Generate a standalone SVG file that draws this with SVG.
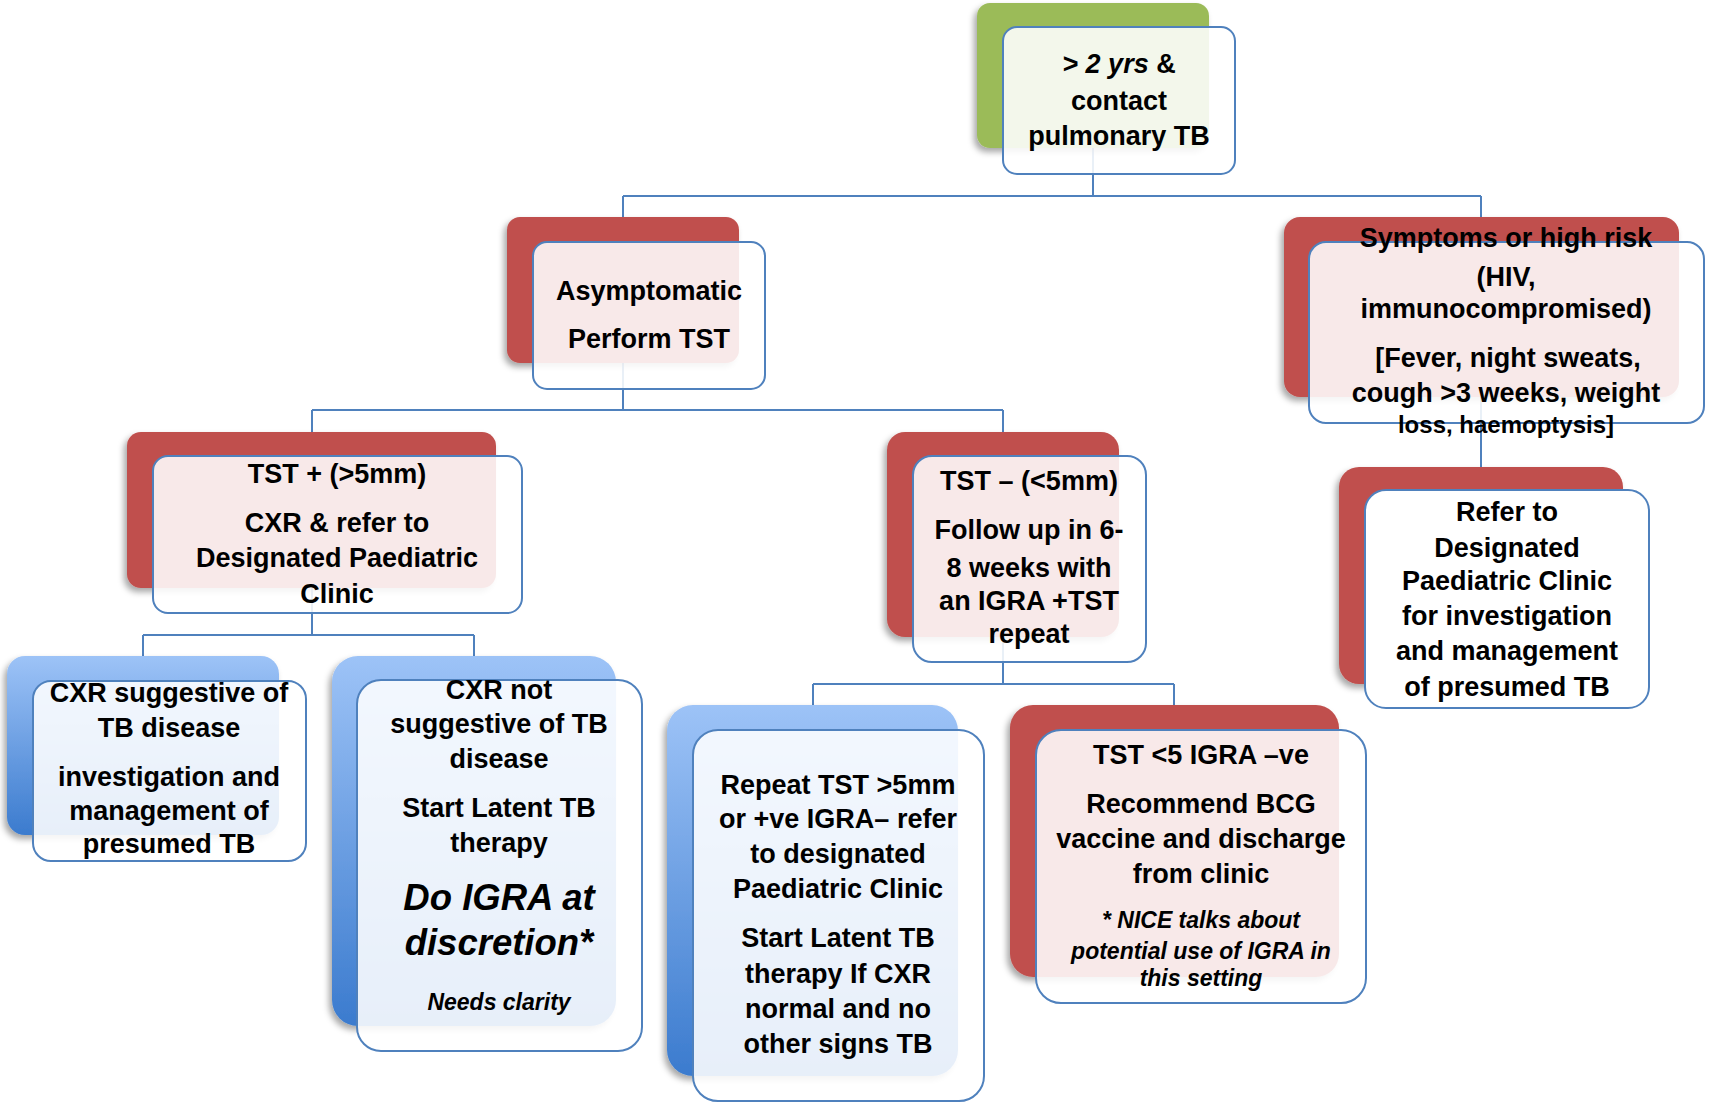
<svg xmlns="http://www.w3.org/2000/svg" width="1710" height="1103" viewBox="0 0 1710 1103">
<defs>
<linearGradient id="blueGrad" x1="0" y1="0" x2="0" y2="1">
<stop offset="0" stop-color="#9DC3F7"/>
<stop offset="1" stop-color="#3B7BCE"/>
</linearGradient>
<filter id="shadow" x="-10%" y="-10%" width="120%" height="125%">
<feDropShadow dx="-3" dy="4" stdDeviation="3" flood-color="#000" flood-opacity="0.35"/>
</filter>
<style>
.green{fill:#9BBB59;filter:url(#shadow)}
.red{fill:#C0504D;filter:url(#shadow)}
.blue{fill:url(#blueGrad);filter:url(#shadow)}
.front{fill:#FFFFFF;fill-opacity:0.88;stroke:#4F81BD;stroke-width:2}
.opaque{fill-opacity:1}
.conn{fill:none;stroke:#4F81BD;stroke-width:2}
text{font-family:"Liberation Sans",Arial,sans-serif;font-weight:bold;font-size:27px;fill:#000;text-anchor:middle}
.it{font-style:italic}
.big{font-size:36.5px}
.small{font-size:23px}
.s24{font-size:24px}
</style>
</defs>
<rect width="1710" height="1103" fill="#FFFFFF"/>

<g id="connectors">
<path class="conn" d="M1093,148 V196 M623,196 H1481 M623,196 V217 M1481,196 V217"/>
<path class="conn" d="M623,363 V410 M312,410 H1003 M312,410 V432 M1003,410 V432"/>
<path class="conn" d="M1481,397 V467"/>
<path class="conn" d="M312,588 V635 M143,635 H474 M143,635 V656 M474,635 V656"/>
<path class="conn" d="M1003,637 V684 M813,684 H1174 M813,684 V705 M1174,684 V705"/>
</g>

<g id="node-root">
<rect class="green" x="977" y="3" width="232" height="145" rx="13"/>
<rect class="front" x="1003" y="27" width="232" height="147" rx="14"/>
<text x="1119" y="73"><tspan class="it">&gt; 2 yrs</tspan> &amp;</text>
<text x="1119" y="110">contact</text>
<text x="1119" y="145">pulmonary TB</text>
</g>

<g id="node-asymptomatic">
<rect class="red" x="507" y="217" width="232" height="146" rx="13"/>
<rect class="front" x="533" y="242" width="232" height="147" rx="14"/>
<text x="649" y="300">Asymptomatic</text>
<text x="649" y="348">Perform TST</text>
</g>

<g id="node-symptoms">
<rect class="red" x="1284" y="217" width="395" height="180" rx="16"/>
<rect class="front" x="1309" y="242" width="395" height="181" rx="17"/>
<text x="1506" y="247">Symptoms or high risk</text>
<text x="1506" y="286">(HIV,</text>
<text x="1506" y="318">immunocompromised)</text>
<text x="1508" y="367">[Fever, night sweats,</text>
<text x="1506" y="402">cough &gt;3 weeks, weight</text>
<text class="s24" x="1506" y="433">loss, haemoptysis]</text>
</g>

<g id="node-tst-pos">
<rect class="red" x="127" y="432" width="369" height="156" rx="14"/>
<rect class="front" x="153" y="456" width="369" height="157" rx="15"/>
<text x="337" y="483">TST + (&gt;5mm)</text>
<text x="337" y="532">CXR &amp; refer to</text>
<text x="337" y="567">Designated Paediatric</text>
<text x="337" y="603">Clinic</text>
</g>

<g id="node-tst-neg">
<rect class="red" x="887" y="432" width="232" height="205" rx="18"/>
<rect class="front" x="913" y="456" width="233" height="206" rx="19"/>
<text x="1029" y="490">TST – (&lt;5mm)</text>
<text x="1029" y="539">Follow up in 6-</text>
<text x="1029" y="577">8 weeks with</text>
<text x="1029" y="610">an IGRA +TST</text>
<text x="1029" y="643">repeat</text>
</g>

<g id="node-refer">
<rect class="red" x="1339" y="467" width="284" height="217" rx="20"/>
<rect class="front opaque" x="1365" y="490" width="284" height="218" rx="21"/>
<text x="1507" y="521">Refer to</text>
<text x="1507" y="557">Designated</text>
<text x="1507" y="590">Paediatric Clinic</text>
<text x="1507" y="625">for investigation</text>
<text x="1507" y="660">and management</text>
<text x="1507" y="696">of presumed TB</text>
</g>

<g id="node-cxr-suggestive">
<rect class="blue" x="7" y="656" width="272" height="179" rx="18"/>
<rect class="front" x="33" y="681" width="273" height="180" rx="18"/>
<text x="169" y="702">CXR suggestive of</text>
<text x="169" y="737">TB disease</text>
<text x="169" y="786">investigation and</text>
<text x="169" y="820">management of</text>
<text x="169" y="853">presumed TB</text>
</g>

<g id="node-cxr-not">
<rect class="blue" x="332" y="656" width="284" height="370" rx="26"/>
<rect class="front" x="357" y="680" width="285" height="371" rx="24"/>
<text x="499" y="699">CXR not</text>
<text x="499" y="733">suggestive of TB</text>
<text x="499" y="768">disease</text>
<text x="499" y="817">Start Latent TB</text>
<text x="499" y="852">therapy</text>
<text class="it big" x="499" y="910">Do IGRA at</text>
<text class="it big" x="499" y="955">discretion*</text>
<text class="it small" x="499" y="1010">Needs clarity</text>
</g>

<g id="node-repeat">
<rect class="blue" x="667" y="705" width="291" height="371" rx="26"/>
<rect class="front" x="693" y="730" width="291" height="371" rx="25"/>
<text x="838" y="794">Repeat TST &gt;5mm</text>
<text x="838" y="828">or +ve IGRA– refer</text>
<text x="838" y="863">to designated</text>
<text x="838" y="898">Paediatric Clinic</text>
<text x="838" y="947">Start Latent TB</text>
<text x="838" y="983">therapy If CXR</text>
<text x="838" y="1018">normal and no</text>
<text x="838" y="1053">other signs TB</text>
</g>

<g id="node-bcg">
<rect class="red" x="1010" y="705" width="329" height="272" rx="23"/>
<rect class="front" x="1036" y="730" width="330" height="273" rx="25"/>
<text x="1201" y="764">TST &lt;5 IGRA –ve</text>
<text x="1201" y="813">Recommend BCG</text>
<text x="1201" y="848">vaccine and discharge</text>
<text x="1201" y="883">from clinic</text>
<text class="it small" x="1201" y="928">* NICE talks about</text>
<text class="it small" x="1201" y="959">potential use of IGRA in</text>
<text class="it small" x="1201" y="986">this setting</text>
</g>
</svg>
